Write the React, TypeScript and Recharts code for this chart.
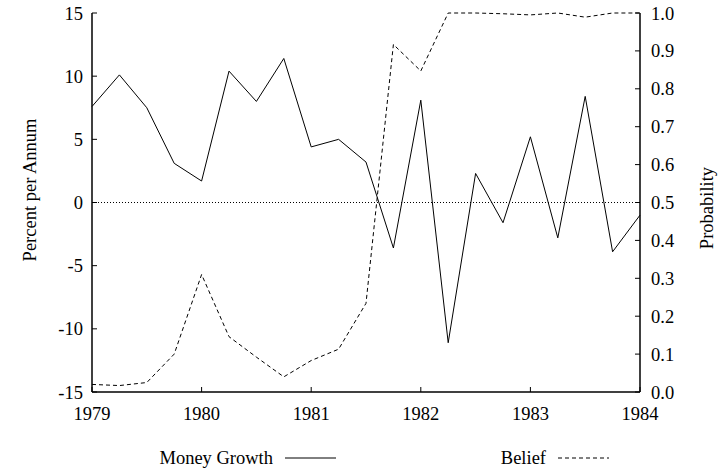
import React from 'react';
import { LineChart, Line, XAxis, YAxis, ReferenceLine, Legend } from 'recharts';

// quarterly observations, 1979Q1 .. 1984Q1
const quarters = [
  1979, 1979.25, 1979.5, 1979.75, 1980, 1980.25, 1980.5, 1980.75, 1981, 1981.25, 1981.5,
  1981.75, 1982, 1982.25, 1982.5, 1982.75, 1983, 1983.25, 1983.5, 1983.75, 1984
];
const moneyGrowth = [
  7.6, 10.1, 7.5, 3.1, 1.7, 10.4, 8.0, 11.4, 4.4, 5.0, 3.2,
  -3.6, 8.1, -11.1, 2.3, -1.6, 5.2, -2.8, 8.4, -3.9, -1.0
];
const belief = [
  0.02, 0.017, 0.025, 0.1, 0.31, 0.146, 0.092, 0.04, 0.083, 0.113, 0.234,
  0.917, 0.847, 1.0, 1.0, 0.998, 0.995, 1.0, 0.989, 1.0, 1.0
];
const yearTicks = [1979, 1980, 1981, 1982, 1983, 1984];
const percentTicks = [-15, -10, -5, 0, 5, 10, 15];
const probTicks = [0, 0.1, 0.2, 0.3, 0.4, 0.5, 0.6, 0.7, 0.8, 0.9, 1.0];

const FONT = '"Liberation Serif", "Times New Roman", Times, serif';
const FONT_SIZE = 18.5;
const tickStyle = { fontSize: FONT_SIZE, fill: '#000', fontFamily: FONT };
const frame = { stroke: '#000', strokeWidth: 1.5 };

const data = quarters.map((q, i) => ({ q, money: moneyGrowth[i], belief: belief[i] }));

const SERIES = [
  { key: 'money', name: 'Money Growth', axis: 'left', dash: undefined as string | undefined },
  { key: 'belief', name: 'Belief', axis: 'right', dash: '4 3' }
];

// gnuplot-style key under the plot: text right-aligned against a line sample
const renderLegend = () => (
  <div style={{ position: 'relative', width: 724, height: 30, fontFamily: FONT, fontSize: FONT_SIZE, color: '#000' }}>
    {SERIES.map((s, i) => (
      <div
        key={s.key}
        style={{ position: 'absolute', left: i === 0 ? 136 : 409, width: 200, top: 7, display: 'flex', alignItems: 'center', justifyContent: 'flex-end' }}
      >
        <span style={{ marginRight: 12, lineHeight: '22px' }}>{s.name}</span>
        <svg width={51} height={4}>
          <line x1={0} y1={2} x2={51} y2={2} stroke="#000" strokeWidth={1} strokeDasharray={s.dash} />
        </svg>
      </div>
    ))}
  </div>
);

const sideLabel = (text: string, x: number, y: number) => () => (
  <text x={x} y={y} transform={`rotate(-90 ${x} ${y})`} textAnchor="middle" dominantBaseline="central" fontFamily={FONT} fontSize={FONT_SIZE} fill="#000">
    {text}
  </text>
);

export default function App() {
  return (
    <div style={{ position: 'absolute', left: 0, top: 0, width: 724, height: 474, background: '#fff', fontFamily: FONT }}>
      <LineChart width={724} height={474} data={data} margin={{ top: 13, right: 24, left: 32, bottom: 52 }}>
        <XAxis
          xAxisId="bottom"
          dataKey="q"
          type="number"
          domain={[1979, 1984]}
          ticks={yearTicks}
          height={30}
          stroke="#000"
          axisLine={frame}
          tickSize={-5}
          tickMargin={20}
          tick={tickStyle}
        />
        <XAxis
          xAxisId="top"
          orientation="top"
          dataKey="q"
          type="number"
          domain={[1979, 1984]}
          ticks={yearTicks}
          height={0}
          stroke="#000"
          axisLine={frame}
          tickSize={-5}
          tick={() => <g />}
        />
        <YAxis
          yAxisId="left"
          domain={[-15, 15]}
          ticks={percentTicks}
          width={60}
          stroke="#000"
          axisLine={frame}
          tickSize={-5}
          tickMargin={14}
          tick={tickStyle}
          label={sideLabel('Percent per Annum', 30, 190)}
        />
        <YAxis
          yAxisId="right"
          orientation="right"
          domain={[0, 1]}
          ticks={probTicks}
          width={60}
          stroke="#000"
          axisLine={frame}
          tickSize={-5}
          tickMargin={16}
          tick={tickStyle}
          tickFormatter={(v: number) => v.toFixed(1)}
          label={sideLabel('Probability', 707, 208)}
        />
        <ReferenceLine xAxisId="bottom" yAxisId="left" y={0} stroke="#000" strokeDasharray="1 2" />
        {SERIES.map((s) => (
          <Line
            key={s.key}
            xAxisId="bottom"
            yAxisId={s.axis}
            dataKey={s.key}
            name={s.name}
            type="linear"
            stroke="#000"
            strokeWidth={1}
            strokeDasharray={s.dash}
            dot={false}
            isAnimationActive={false}
          />
        ))}
        <Legend
          layout="horizontal"
          verticalAlign="middle"
          align="center"
          content={renderLegend}
          wrapperStyle={{ position: 'absolute', left: 0, top: 440, width: 724 }}
        />
      </LineChart>
    </div>
  );
}
